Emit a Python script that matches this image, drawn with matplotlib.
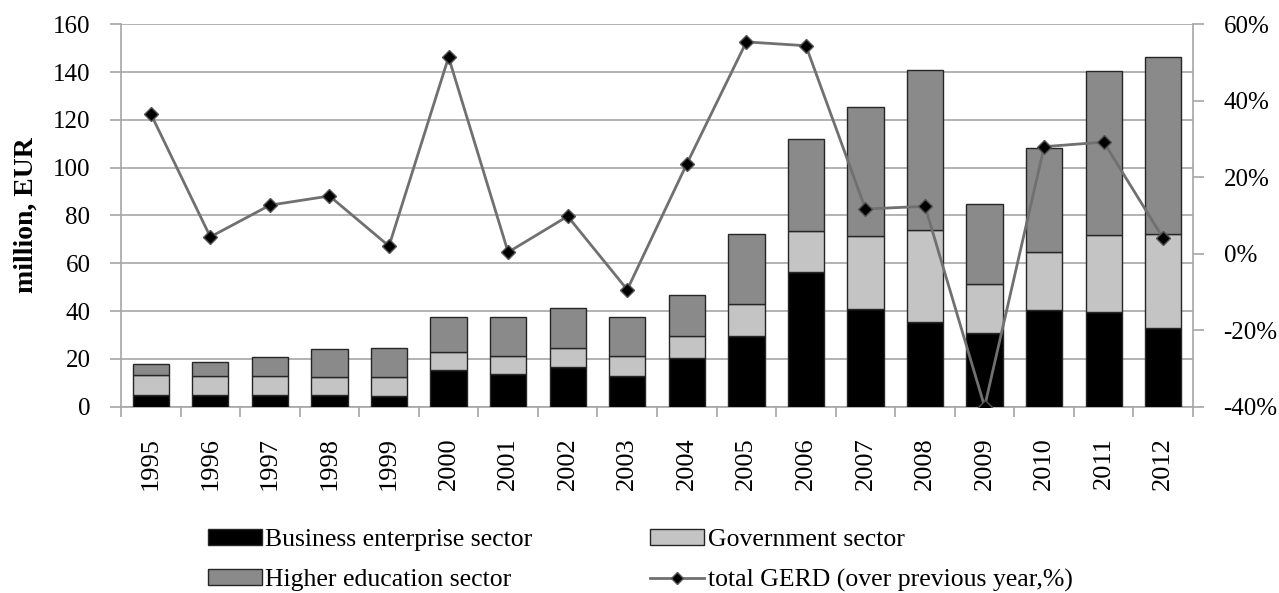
import numpy as np
import matplotlib.pyplot as plt
from matplotlib.lines import Line2D
from matplotlib.patches import Patch

years = [str(y) for y in range(1995, 2013)]
business = [4.9, 4.9, 4.9, 4.9, 4.3, 15.2, 13.6, 16.7, 13.0, 20.5,
            29.7, 56.5, 40.9, 35.6, 30.7, 40.3, 39.5, 32.8]
government = [8.5, 7.9, 7.9, 7.4, 8.0, 7.8, 7.7, 8.0, 8.3, 9.0,
              13.1, 17.1, 30.4, 38.5, 20.8, 24.6, 32.3, 39.6]
higher_edu = [4.3, 5.9, 8.1, 11.8, 12.4, 14.5, 16.2, 16.5, 16.2, 17.1,
              29.6, 38.5, 54.2, 66.9, 33.3, 43.5, 68.8, 74.0]
gerd_growth = [36.6, 4.4, 12.7, 15.1, 2.0, 51.4, 0.4, 9.8, -9.4, 23.5,
               55.4, 54.4, 11.7, 12.4, -40.0, 28.0, 29.2, 4.0]

plt.rcParams['font.family'] = ['Liberation Serif', 'DejaVu Serif']
fs = 18

fig = plt.figure(figsize=(12.79, 5.93), dpi=100)
ax = fig.add_axes([0.0946, 0.3142, 0.8382, 0.6448])

x = np.arange(len(years))
w = 0.61
edge = '#262626'
grid_c = '#a6a6a6'
ax.bar(x, business, w, color='black', edgecolor=edge, linewidth=1, zorder=3)
ax.bar(x, government, w, bottom=business, color='#c4c4c4',
       edgecolor=edge, linewidth=1, zorder=3)
bottom2 = np.array(business) + np.array(government)
ax.bar(x, higher_edu, w, bottom=bottom2, color='#8a8a8a',
       edgecolor=edge, linewidth=1, zorder=3)

ax.set_xlim(-0.5, len(years) - 0.5)
ax.set_ylim(0, 160)
ax.set_yticks(range(0, 161, 20))
ax.yaxis.grid(True, color=grid_c, linewidth=1.2, zorder=0)
ax.set_axisbelow(True)
ax.set_ylabel('million, EUR', fontsize=20, fontweight='bold', labelpad=10)

ax.set_xticks(x)
ax.set_xticklabels(years, rotation=90, fontsize=19)
ax.set_xticks(np.arange(-0.5, len(years), 1), minor=True)
ax.tick_params(axis='x', which='major', length=0, pad=22)
ax.tick_params(axis='x', which='minor', length=7, color=grid_c, width=1.2)
ax.tick_params(axis='y', labelsize=fs, length=8, color=grid_c, width=1.2,
               pad=14)

for side in ['top', 'right']:
    ax.spines[side].set_visible(False)
for side in ['left', 'bottom']:
    ax.spines[side].set_color(grid_c)
    ax.spines[side].set_linewidth(1.2)

ax2 = ax.twinx()
ax2.plot(x, gerd_growth, color='#707070', linewidth=2, marker='D',
         markersize=7, markerfacecolor='black', markeredgecolor='#555555',
         zorder=5)
ax2.set_ylim(-40, 60)
ax2.set_yticks(range(-40, 61, 20))
ax2.set_yticklabels([f'{v}%' for v in range(-40, 61, 20)])
ax2.tick_params(axis='y', labelsize=fs, length=8, color=grid_c, width=1.2,
                pad=14)
for side in ['top', 'left', 'bottom']:
    ax2.spines[side].set_visible(False)
ax2.spines['right'].set_color(grid_c)
ax2.spines['right'].set_linewidth(1.2)

handles = [
    Patch(facecolor='black', edgecolor=edge, label='Business enterprise sector'),
    Patch(facecolor='#8a8a8a', edgecolor=edge, label='Higher education sector'),
    Patch(facecolor='#c4c4c4', edgecolor=edge, label='Government sector'),
    Line2D([], [], color='#707070', linewidth=2, marker='D', markersize=6,
           markerfacecolor='black', markeredgecolor='#555555',
           label='total GERD (over previous year,%)'),
]
fig.legend(handles=handles, ncol=2, loc='upper left',
           bbox_to_anchor=(208 / 1279, 1 - 529 / 593), frameon=False,
           fontsize=18.5, borderpad=0, borderaxespad=0,
           handlelength=2.1, handleheight=0.6, handletextpad=0.12,
           columnspacing=4.6, labelspacing=0.68)

fig.savefig('out.png', dpi=100)
